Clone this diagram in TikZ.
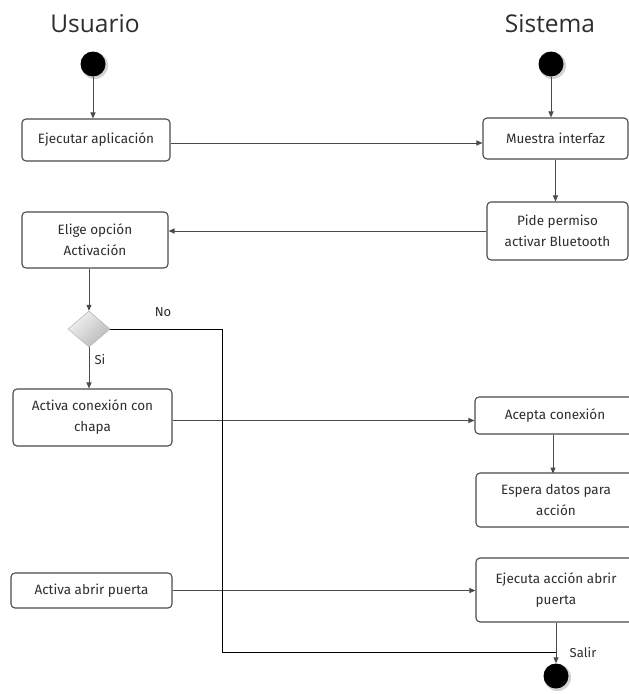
\documentclass[tikz,border=0pt]{standalone}
\usepackage{fontspec}
\setmainfont{Open Sans}
\newfontfamily\boxfont{Fira Sans}
\usetikzlibrary{arrows.meta,shapes.geometric}
\definecolor{ink}{HTML}{2E2E2E}
\definecolor{edge}{HTML}{4A4A4A}
\tikzset{
  flow/.style={draw=edge, line width=1pt, -{Triangle[length=6pt,width=5pt]}},
  actbox/.style={draw=edge, line width=1.1pt, rounded corners=4pt, fill=white,
    text=ink, font=\boxfont\fontsize{13.5}{21}\selectfont, align=center, inner sep=2pt},
  startdot/.style={circle, fill=black, minimum size=25pt, inner sep=0pt},
  lane/.style={text=ink, font=\fontsize{24.5}{28}\selectfont},
  tag/.style={text=ink, font=\boxfont\fontsize{13}{15}\selectfont},
  choice/.style={diamond, draw=gray!60, line width=0.5pt, left color=gray!10,
    right color=gray!55, shading angle=45, minimum width=42pt, minimum height=36pt, inner sep=0pt}
}
\begin{document}
\begin{tikzpicture}[x=1pt,y=-1pt]
\clip (0,0) rectangle (629,694);
\fill[white] (0,0) rectangle (629,694);

% swimlane headings
\node[lane] (tU) at (95,24) {Usuario};
\node[lane] (tS) at (550,24) {Sistema};

% initial and final states (with a soft shadow)
\fill[gray!35] (94.5,65.5) circle (13.5pt);
\node[startdot] (sU) at (93,64) {};
\fill[gray!35] (552.5,65.5) circle (13.5pt);
\node[startdot] (sS) at (551,64) {};
\fill[gray!35] (557.5,677.5) circle (13.5pt);
\node[startdot] (fin) at (556,676) {};

% activities
\node[actbox, minimum width=148pt, minimum height=42pt] (ejec) at (96,140) {Ejecutar aplicación};
\node[actbox, minimum width=145pt, minimum height=41pt] (muestra) at (555.5,138.5) {Muestra interfaz};
\node[actbox, minimum width=141pt, minimum height=58pt] (pide) at (557.5,231) {Pide permiso\\activar Bluetooth};
\node[actbox, minimum width=146pt, minimum height=56pt] (elige) at (95,240) {Elige opción\\Activación};
\node[choice] (dec) at (89,329) {};
\node[actbox, minimum width=159pt, minimum height=57pt] (act) at (92.5,417.5) {Activa conexión con\\chapa};
\node[actbox, minimum width=160pt, minimum height=37pt] (acepta) at (555,415.5) {Acepta conexión};
\node[actbox, minimum width=160pt, minimum height=54pt] (espera) at (556,500) {Espera datos para\\acción};
\node[actbox, minimum width=160pt, minimum height=64pt] (ejecuta) at (556,590) {Ejecuta acción abrir\\puerta};
\node[actbox, minimum width=161pt, minimum height=35pt] (abrir) at (91.5,590.5) {Activa abrir puerta};

% labels
\node[tag] (lno) at (163,312) {No};
\node[tag] (lsi) at (100,360) {Si};
\node[tag] (lsalir) at (583,652) {Salir};

% transitions
\draw[flow] (sU) -- (sU |- ejec.north);
\draw[flow] (sS) -- (sS |- muestra.north);
\draw[flow] ([yshift=-3pt]ejec.east) -- ([yshift=-3pt]ejec.east -| muestra.west);
\draw[flow] (muestra) -- (muestra |- pide.north);
\draw[flow] (pide.west) -- (pide.west -| elige.east);
\draw[flow] (dec |- elige.south) -- (dec.north);
\draw[flow] (dec.south) -- (dec |- act.north);
\draw[flow] ([yshift=-3pt]act.east) -- ([yshift=-3pt]act.east -| acepta.west);
\draw[flow] (acepta.south -| espera) ++(-3,0) -- ++(0,39);
\draw[flow] (abrir.east) -- (abrir.east -| ejecuta.west);
\coordinate (merge) at (fin |- 0,652);
\draw[line width=1pt, black] (dec.east) -- (222,329) -- (222,652) -- (merge);
\draw[flow] (ejecuta.south -| fin) -- (fin.north);
\end{tikzpicture}
\end{document}
